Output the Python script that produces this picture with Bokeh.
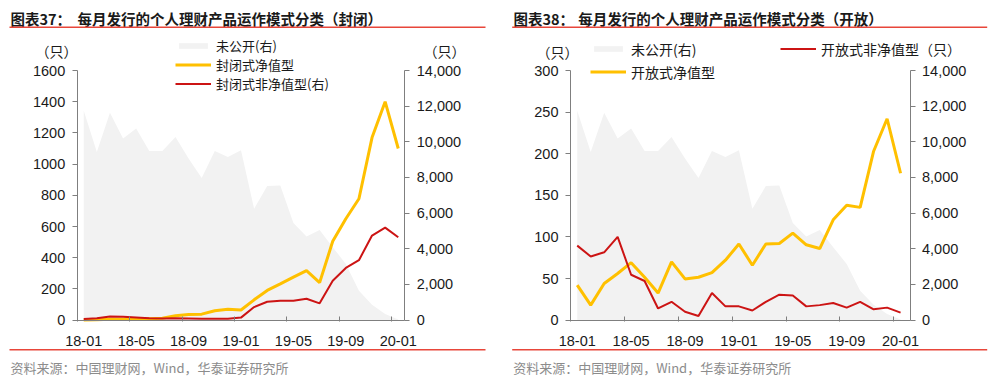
from bokeh.plotting import figure
from bokeh.models import (Range1d, LinearAxis, FixedTicker, NumeralTickFormatter,
                          Legend, LegendItem, Label, BoxAnnotation)
from bokeh.layouts import row
from bokeh.embed import file_html
from bokeh.resources import INLINE

# ---------------- data ----------------
months = ["18-01", "18-02", "18-03", "18-04", "18-05", "18-06", "18-07", "18-08",
          "18-09", "18-10", "18-11", "18-12", "19-01", "19-02", "19-03", "19-04",
          "19-05", "19-06", "19-07", "19-08", "19-09", "19-10", "19-11", "19-12",
          "20-01"]
tick_labels = ["18-01", "18-05", "18-09", "19-01", "19-05", "19-09", "20-01"]

# 未公开 (right axis, both charts)
undisclosed = [11740, 9430, 11625, 10180, 10740, 9490, 9490, 10275, 9060, 7970,
               9490, 9150, 9525, 6245, 7520, 7555, 5440, 4690, 5060, 4090,
               3150, 1650, 860, 340, 40]
# 封闭式净值型 (left axis)
closed_nav = [0, 2, 5, 5, 8, 8, 12, 28, 36, 38, 60, 70, 65, 130, 190, 232,
              275, 317, 240, 505, 650, 778, 1170, 1400, 1100]
# 封闭式非净值型 (right axis)
closed_non_nav = [60, 110, 200, 190, 150, 110, 90, 100, 90, 75, 70, 75, 140,
                  730, 1030, 1090, 1090, 1200, 940, 2210, 2925, 3360, 4740,
                  5190, 4650]
# 开放式净值型 (left axis)
open_nav = [42, 18, 44, 56, 69, 51.5, 32.5, 70, 49.5, 51.5, 57, 72, 91.5, 66,
            91.5, 92, 104.5, 90.5, 86, 120.5, 138, 135.5, 203, 242, 176.5]
# 开放式非净值型 (left axis)
open_non_nav = [89.5, 76.5, 81.5, 100, 54.5, 47, 14, 22, 10, 5, 32.5, 16.5,
                16.5, 11.5, 22, 30.5, 29.5, 16.5, 18, 20.5, 15, 22, 13, 15, 9]

# ---------------- style ----------------
CJK = "Noto Sans CJK SC"
NUM = "Liberation Sans"
YELLOW = "#FFC000"
RED = "#CC1414"
GRAY_AREA = "#F2F2F2"
AXIS = "#7F7F7F"
TXT = "#1A1A1A"
RULE = "#E8463A"
FOOT = "#8C8C8C"
H = 388

xs = [i + 0.5 for i in range(len(months))]
major = [months.index(t) + 0.5 for t in tick_labels]
minor = [months.index(t) for t in tick_labels]


def span_range(pix0, v0, pix1, v1, total):
    per = (pix1 - pix0) / (v1 - v0)
    start = v0 - pix0 / per
    return Range1d(start, start + total / per)


def style_y(ax):
    ax.axis_line_color = AXIS
    ax.major_tick_line_color = AXIS
    ax.major_tick_out = 5
    ax.major_tick_in = 0
    ax.minor_tick_line_color = None
    ax.major_label_standoff = 7
    ax.major_label_text_font = NUM
    ax.major_label_text_font_size = "14.5px"
    ax.major_label_text_color = TXT


def panel(width, ax_left, ax_right, x_end, left_end, left_step, right_end,
          label, title, x_label, x_title, rule_x0, rule_x1):
    # frame = whole canvas; axes sit at fixed locations inside it
    bottom_px = H - 319.6    # y=0 measured from canvas bottom
    top_px = H - 70          # top value measured from canvas bottom
    p = figure(width=width, height=H, toolbar_location=None,
               output_backend="svg", min_border=0,
               x_range=span_range(ax_left, 0, ax_right, x_end, width),
               y_range=span_range(bottom_px, 0, top_px, left_end, H))
    p.grid.visible = False
    p.outline_line_color = None
    p.extra_y_ranges = {"right": span_range(bottom_px, 0, top_px, right_end, H)}

    xa = p.xaxis[0]
    xa.fixed_location = 0
    xa.bounds = (0, x_end)
    xa.ticker = FixedTicker(ticks=major, minor_ticks=minor)
    xa.major_label_overrides = {m: t for m, t in zip(major, tick_labels)}
    xa.axis_line_color = AXIS
    xa.major_tick_line_color = None
    xa.minor_tick_line_color = AXIS
    xa.minor_tick_in = 4
    xa.minor_tick_out = 1
    xa.major_label_standoff = 10
    xa.major_label_text_font = NUM
    xa.major_label_text_font_size = "14.5px"
    xa.major_label_text_color = TXT

    ya = p.yaxis[0]
    ya.fixed_location = 0
    ya.bounds = (0, left_end)
    ya.ticker = FixedTicker(ticks=list(range(0, left_end + 1, left_step)))
    style_y(ya)

    yr = LinearAxis(y_range_name="right", fixed_location=x_end,
                    bounds=(0, right_end))
    yr.ticker = FixedTicker(ticks=list(range(0, right_end + 1, 2000)))
    yr.formatter = NumeralTickFormatter(format="0,0")
    style_y(yr)
    p.add_layout(yr, "right")

    # title, rules, footer
    for tx, tt in ((x_label, label), (x_title, title)):
        p.add_layout(Label(x=tx, y=H - 17.5, x_units="screen", y_units="screen",
                           text=tt, text_font=CJK, text_font_size="14.5px",
                           text_font_style="bold", text_color=TXT,
                           text_baseline="middle"))
    p.add_layout(BoxAnnotation(left=rule_x0, right=rule_x1, top=H - 26.1,
                               bottom=H - 27.4, left_units="screen",
                               right_units="screen", top_units="screen",
                               bottom_units="screen", fill_color=RULE,
                               fill_alpha=1, line_color=None))
    p.add_layout(BoxAnnotation(left=rule_x0, right=rule_x1, top=H - 348.6,
                               bottom=H - 350.1, left_units="screen",
                               right_units="screen", top_units="screen",
                               bottom_units="screen", fill_color=RULE,
                               fill_alpha=1, line_color=None))
    p.add_layout(Label(x=rule_x0 + 1, y=H - 366.7, x_units="screen",
                       y_units="screen",
                       text="资料来源：中国理财网，Wind，华泰证券研究所",
                       text_font=CJK, text_font_size="13px", text_color=FOOT,
                       text_baseline="middle"))
    return p


def legend(item, x, center_y, size="14px"):
    # center_y: row centre measured from the top of the canvas
    return Legend(items=[item], location=(x, H - center_y - 7.5),
                  orientation="vertical", padding=0, margin=0, spacing=0,
                  glyph_width=36, glyph_height=7, label_height=15,
                  label_standoff=5, label_text_font=CJK,
                  label_text_font_size=size, label_text_color=TXT,
                  background_fill_alpha=0, border_line_alpha=0)


def unit(p, x, center_y):
    p.add_layout(Label(x=x, y=H - center_y, x_units="screen", y_units="screen",
                       text="（只）", text_font=CJK, text_font_size="14px",
                       text_color=TXT, text_baseline="middle"))


# ---------------- left chart (封闭) ----------------
p1 = panel(498, 76.7, 404.3, 25, 1600, 200, 14000, "图表37：",
           "每月发行的个人理财产品运作模式分类（封闭）", 10, 77, 9, 485)
a1 = p1.varea(x=xs, y1=0, y2=undisclosed, fill_color=GRAY_AREA,
              y_range_name="right", level="underlay")
l1 = p1.line(x=xs, y=closed_nav, line_color=YELLOW, line_width=3)
r1 = p1.line(x=xs, y=closed_non_nav, line_color=RED, line_width=2,
             y_range_name="right")
p1.add_layout(legend(LegendItem(label="未公开(右)", renderers=[a1]), 175, 47, "13px"))
p1.add_layout(legend(LegendItem(label="封闭式净值型", renderers=[l1]), 175, 66, "13px"))
p1.add_layout(legend(LegendItem(label="封闭式非净值型(右)", renderers=[r1]), 175, 85, "13px"))
unit(p1, 35, 50)
unit(p1, 423, 50)

# ---------------- right chart (开放) ----------------
p2 = panel(499, 72, 411.5, 25.2, 300, 50, 14000, "图表38：",
           "每月发行的个人理财产品运作模式分类（开放）", 15, 79.7, 13.7, 488.7)
a2 = p2.varea(x=xs, y1=0, y2=undisclosed, fill_color=GRAY_AREA,
              y_range_name="right", level="underlay")
l2 = p2.line(x=xs, y=open_nav, line_color=YELLOW, line_width=3)
r2 = p2.line(x=xs, y=open_non_nav, line_color=RED, line_width=2)
p2.add_layout(legend(LegendItem(label="未公开(右)", renderers=[a2]), 92, 51))
p2.add_layout(legend(LegendItem(label="开放式净值型", renderers=[l2]), 92, 74))
p2.add_layout(legend(LegendItem(label="开放式非净值型（只）", renderers=[r2]), 282, 51))
unit(p2, 38, 51)

layout = row(p1, p2, spacing=0)

open("out.html", "w").write(file_html(layout, INLINE))
